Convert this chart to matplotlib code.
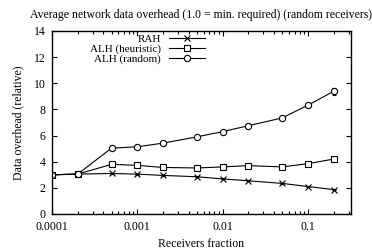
import matplotlib
matplotlib.use("Agg")
from matplotlib import pyplot as plt
from matplotlib.ticker import NullFormatter

fraction = [0.0001, 0.0002, 0.0005, 0.001, 0.002, 0.005, 0.01, 0.02, 0.05, 0.1, 0.2]
rah = [3.0, 3.05, 3.1, 3.05, 2.95, 2.85, 2.68, 2.54, 2.34, 2.1, 1.87]
rah_err = [0.05, 0.05, 0.04, 0.04, 0.04, 0.04, 0.04, 0.04, 0.04, 0.04, 0.04]
alh_heur = [3.0, 3.05, 3.8, 3.72, 3.56, 3.52, 3.6, 3.7, 3.6, 3.85, 4.2]
alh_heur_err = [0.15, 0.15, 0.15, 0.15, 0.15, 0.12, 0.12, 0.12, 0.12, 0.12, 0.15]
alh_rand = [3.0, 3.05, 5.04, 5.14, 5.42, 5.9, 6.3, 6.75, 7.35, 8.32, 9.38]
alh_rand_err = [0.15, 0.15, 0.1, 0.1, 0.1, 0.1, 0.1, 0.1, 0.1, 0.12, 0.25]

plt.rcParams['font.family'] = ['Liberation Serif', 'DejaVu Serif']
plt.rcParams['font.size'] = 8.5

fig = plt.figure(figsize=(3.72, 2.49), dpi=100)
ax = fig.add_axes([0.1398, 0.1406, 0.8037, 0.735])

series = [
    (rah, rah_err, 'x', 4, 'RAH'),
    (alh_heur, alh_heur_err, 's', 4, 'ALH (heuristic)'),
    (alh_rand, alh_rand_err, 'o', 4.5, 'ALH (random)'),
]
for vals, err, mk, ms, name in series:
    # error bars first, then the line (so the legend shows no bars)
    ax.errorbar(fraction, vals, yerr=err, fmt='none', ecolor='black',
                elinewidth=0.8, capsize=1.5, capthick=0.8)
    ax.plot(fraction, vals, color='black', lw=0.8, marker=mk, ms=ms,
            markerfacecolor='white', markeredgewidth=0.8, label=name)

ax.set_xscale('log')
ax.set_xlim(0.0001, 0.32)
ax.set_ylim(0, 14)
ax.set_yticks(range(0, 15, 2))
ax.set_xticks([0.0001, 0.001, 0.01, 0.1])
ax.set_xticklabels(['0.0001', '0.001', '0.01', '0.1'])
ax.xaxis.set_minor_formatter(NullFormatter())
ax.tick_params(which='both', direction='in', top=True, right=True, width=0.8)
ax.tick_params(which='major', length=3.5)
ax.tick_params(which='minor', length=2)
ax.tick_params(axis='x', which='major', pad=5)
ax.tick_params(axis='y', which='major', pad=4.5)
for s in ax.spines.values():
    s.set_linewidth(1.0)

ax.set_title('Average network data overhead (1.0 = min. required) (random receivers)',
             fontsize=8.5, pad=9, x=0.5)
ax.set_xlabel('Receivers fraction', labelpad=4)
ax.set_ylabel('Data overhead (relative)', labelpad=7)

ax.legend(loc='upper right', bbox_to_anchor=(0.54, 1.03), frameon=False,
          markerfirst=False, handlelength=3.2, handletextpad=0.7,
          labelspacing=0.0, borderpad=0.3, fontsize=8)

fig.savefig('out.png', dpi=100)
